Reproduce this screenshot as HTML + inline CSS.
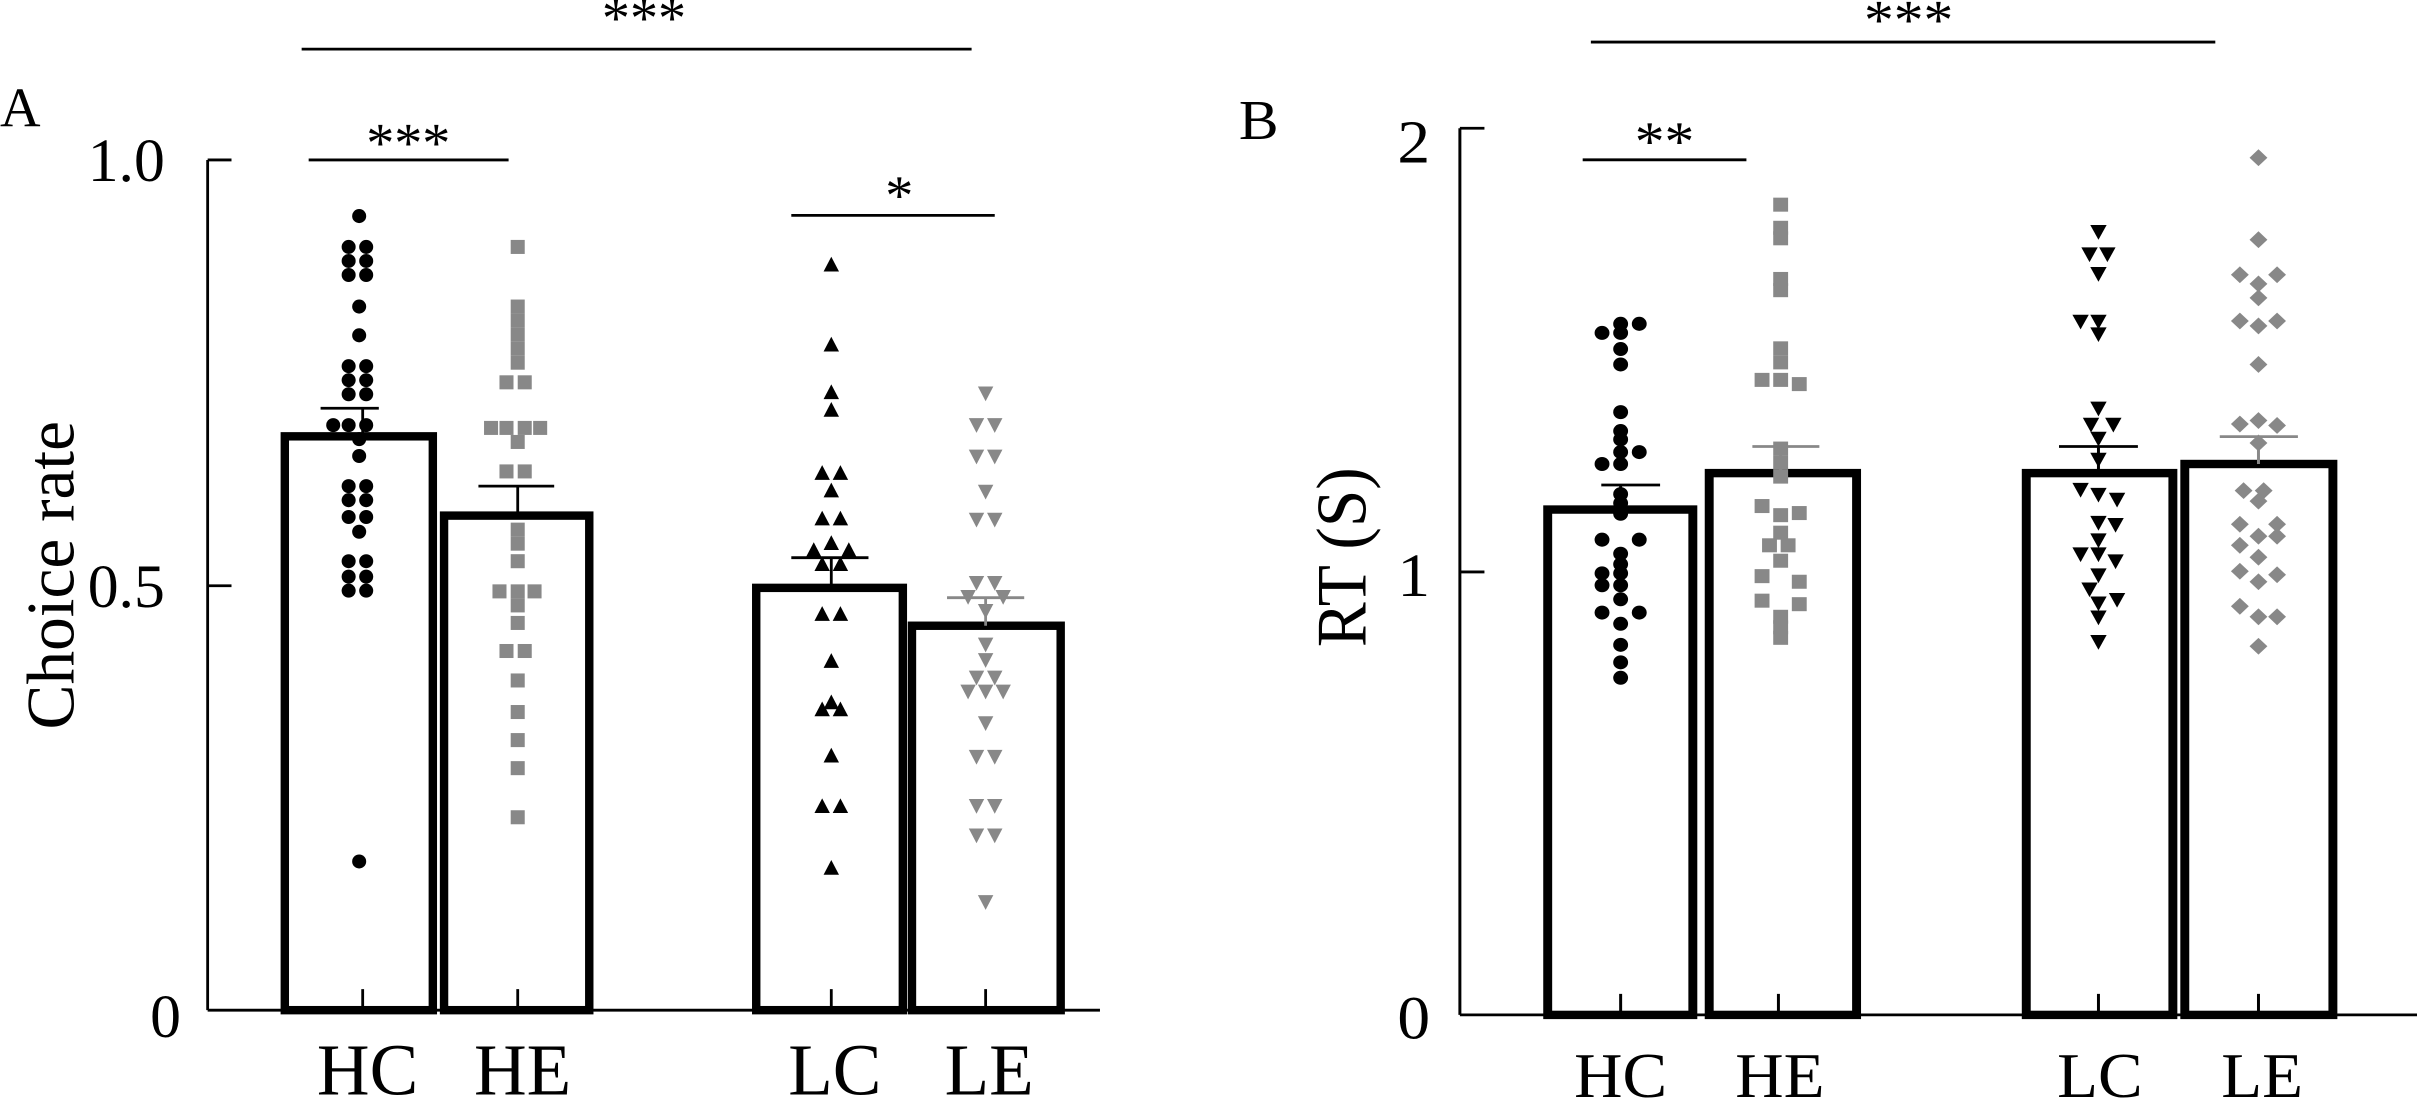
<!DOCTYPE html>
<html><head><meta charset="utf-8"><style>
html,body{margin:0;padding:0;background:#fff;}
svg{display:block;}
text{font-family:"Liberation Serif",serif;fill:#000;}
</style></head><body>
<svg width="2417" height="1099" viewBox="0 0 2417 1099" xmlns="http://www.w3.org/2000/svg">
<defs>
<circle id="c" r="10" fill="#000"/>
<rect id="s" x="-10" y="-10" width="20" height="20" fill="#888"/>
<path id="tu" d="M0,-12 L11,9 L-11,9 Z" fill="#000"/>
<path id="td" d="M0,12 L11,-9 L-11,-9 Z" fill="#888"/>
<path id="tdb" d="M0,12 L11,-9 L-11,-9 Z" fill="#000"/>
<path id="dm" d="M0,-12 L12,0 L0,12 L-12,0 Z" fill="#888"/>
</defs>
<!-- Panel A -->
<g transform="scale(0.70151)">
<text x="0" y="180" font-size="80">A</text>
<line x1="296" y1="228" x2="296" y2="1440" stroke="#000" stroke-width="4"/>
<line x1="296" y1="1440" x2="1568" y2="1440" stroke="#000" stroke-width="4"/>
<line x1="296" y1="228" x2="330" y2="228" stroke="#000" stroke-width="4"/>
<line x1="296" y1="835" x2="330" y2="835" stroke="#000" stroke-width="4"/>
<text x="235" y="258" font-size="88" text-anchor="end">1.0</text>
<text x="235" y="865" font-size="88" text-anchor="end">0.5</text>
<text x="258" y="1478" font-size="88" text-anchor="end">0</text>
<text transform="translate(105,820) rotate(-90)" font-size="96" text-anchor="middle">Choice rate</text>
<g stroke="#000" stroke-width="12" fill="#fff">
<rect x="406" y="622" width="211" height="818"/>
<rect x="633" y="735" width="207" height="705"/>
<rect x="1078" y="838" width="209" height="602"/>
<rect x="1300" y="892" width="212" height="548"/>
</g>
<g stroke="#000" stroke-width="4">
<line x1="517" y1="1410" x2="517" y2="1440"/><line x1="738" y1="1410" x2="738" y2="1440"/>
<line x1="1185" y1="1410" x2="1185" y2="1440"/><line x1="1405" y1="1410" x2="1405" y2="1440"/>
<line x1="430" y1="70" x2="1385" y2="70"/>
<line x1="440" y1="228" x2="725" y2="228"/>
<line x1="1128" y1="307" x2="1418" y2="307"/>
</g>
<text x="918" y="52" font-size="80" text-anchor="middle">***</text>
<text x="582" y="230" font-size="80" text-anchor="middle">***</text>
<text x="1282" y="305" font-size="80" text-anchor="middle">*</text>
<g font-size="104" text-anchor="middle">
<text x="524" y="1560">HC</text><text x="745" y="1560">HE</text>
<text x="1190" y="1560">LC</text><text x="1410" y="1560">LE</text>
</g>
<g>
<use href="#c" x="512" y="308"/><use href="#c" x="497" y="352"/><use href="#c" x="522" y="352"/><use href="#c" x="497" y="372"/><use href="#c" x="522" y="372"/><use href="#c" x="497" y="392"/><use href="#c" x="522" y="392"/><use href="#c" x="512" y="437"/><use href="#c" x="512" y="478"/><use href="#c" x="497" y="522"/><use href="#c" x="522" y="522"/><use href="#c" x="497" y="542"/><use href="#c" x="522" y="542"/><use href="#c" x="497" y="562"/><use href="#c" x="522" y="562"/><use href="#c" x="475" y="606"/><use href="#c" x="497" y="606"/><use href="#c" x="522" y="606"/><use href="#c" x="512" y="626"/><use href="#c" x="512" y="650"/><use href="#c" x="497" y="693"/><use href="#c" x="522" y="693"/><use href="#c" x="497" y="713"/><use href="#c" x="522" y="713"/><use href="#c" x="497" y="737"/><use href="#c" x="522" y="737"/><use href="#c" x="512" y="758"/><use href="#c" x="497" y="800"/><use href="#c" x="522" y="800"/><use href="#c" x="497" y="822"/><use href="#c" x="522" y="822"/><use href="#c" x="497" y="842"/><use href="#c" x="522" y="842"/><use href="#c" x="512" y="1228"/>
</g>
<g>
<use href="#s" x="738" y="352"/><use href="#s" x="738" y="437"/><use href="#s" x="738" y="457"/><use href="#s" x="738" y="477"/><use href="#s" x="738" y="497"/><use href="#s" x="738" y="517"/><use href="#s" x="722" y="545"/><use href="#s" x="748" y="545"/><use href="#s" x="700" y="610"/><use href="#s" x="722" y="610"/><use href="#s" x="748" y="610"/><use href="#s" x="770" y="610"/><use href="#s" x="738" y="630"/><use href="#s" x="722" y="672"/><use href="#s" x="748" y="672"/><use href="#s" x="738" y="755"/><use href="#s" x="738" y="775"/><use href="#s" x="738" y="800"/><use href="#s" x="712" y="843"/><use href="#s" x="738" y="843"/><use href="#s" x="762" y="843"/><use href="#s" x="738" y="863"/><use href="#s" x="738" y="888"/><use href="#s" x="722" y="928"/><use href="#s" x="748" y="928"/><use href="#s" x="738" y="970"/><use href="#s" x="738" y="1015"/><use href="#s" x="738" y="1055"/><use href="#s" x="738" y="1095"/><use href="#s" x="738" y="1165"/>
</g>
<g>
<use href="#tu" x="1185" y="378"/><use href="#tu" x="1185" y="492"/><use href="#tu" x="1185" y="560"/><use href="#tu" x="1185" y="585"/><use href="#tu" x="1172" y="675"/><use href="#tu" x="1198" y="675"/><use href="#tu" x="1185" y="700"/><use href="#tu" x="1172" y="740"/><use href="#tu" x="1198" y="740"/><use href="#tu" x="1160" y="785"/><use href="#tu" x="1185" y="775"/><use href="#tu" x="1210" y="785"/><use href="#tu" x="1172" y="805"/><use href="#tu" x="1198" y="805"/><use href="#tu" x="1172" y="876"/><use href="#tu" x="1198" y="876"/><use href="#tu" x="1185" y="943"/><use href="#tu" x="1185" y="1002"/><use href="#tu" x="1172" y="1012"/><use href="#tu" x="1198" y="1012"/><use href="#tu" x="1185" y="1078"/><use href="#tu" x="1172" y="1150"/><use href="#tu" x="1198" y="1150"/><use href="#tu" x="1185" y="1238"/>
</g>
<g>
<use href="#td" x="1405" y="560"/><use href="#td" x="1392" y="605"/><use href="#td" x="1418" y="605"/><use href="#td" x="1392" y="650"/><use href="#td" x="1418" y="650"/><use href="#td" x="1405" y="700"/><use href="#td" x="1392" y="740"/><use href="#td" x="1418" y="740"/><use href="#td" x="1392" y="830"/><use href="#td" x="1418" y="830"/><use href="#td" x="1405" y="870"/><use href="#td" x="1380" y="850"/><use href="#td" x="1430" y="850"/><use href="#td" x="1405" y="918"/><use href="#td" x="1405" y="940"/><use href="#td" x="1392" y="965"/><use href="#td" x="1418" y="965"/><use href="#td" x="1380" y="985"/><use href="#td" x="1405" y="985"/><use href="#td" x="1430" y="985"/><use href="#td" x="1405" y="1030"/><use href="#td" x="1392" y="1078"/><use href="#td" x="1418" y="1078"/><use href="#td" x="1392" y="1148"/><use href="#td" x="1418" y="1148"/><use href="#td" x="1392" y="1190"/><use href="#td" x="1418" y="1190"/><use href="#td" x="1405" y="1285"/>
</g>
<g stroke-width="4">
<line x1="517" y1="582" x2="517" y2="622" stroke="#000"/><line x1="457" y1="582" x2="540" y2="582" stroke="#000"/>
<line x1="738" y1="693" x2="738" y2="735" stroke="#000"/><line x1="682" y1="693" x2="790" y2="693" stroke="#000"/>
<line x1="1185" y1="795" x2="1185" y2="838" stroke="#000"/><line x1="1128" y1="795" x2="1238" y2="795" stroke="#000"/>
<line x1="1405" y1="852" x2="1405" y2="892" stroke="#888"/><line x1="1350" y1="852" x2="1460" y2="852" stroke="#888"/>
</g>
</g>
<!-- Panel B -->
<g transform="translate(1250,0) scale(0.74426,0.7009)">
<text x="-15" y="198" font-size="80">B</text>
<line x1="282" y1="183" x2="282" y2="1448" stroke="#000" stroke-width="4"/>
<line x1="282" y1="1448" x2="1568" y2="1448" stroke="#000" stroke-width="4"/>
<line x1="282" y1="183" x2="315" y2="183" stroke="#000" stroke-width="4"/>
<line x1="282" y1="816" x2="315" y2="816" stroke="#000" stroke-width="4"/>
<text x="242" y="232" font-size="88" text-anchor="end">2</text>
<text x="242" y="850" font-size="88" text-anchor="end">1</text>
<text x="242" y="1482" font-size="88" text-anchor="end">0</text>
<text transform="translate(155,795) rotate(-90)" font-size="96" text-anchor="middle">RT (S)</text>
<g stroke="#000" stroke-width="12" fill="#fff">
<rect x="400" y="727" width="195" height="721"/>
<rect x="617" y="675" width="198" height="773"/>
<rect x="1043" y="675" width="197" height="773"/>
<rect x="1256" y="662" width="199" height="786"/>
</g>
<g stroke="#000" stroke-width="4">
<line x1="498" y1="1418" x2="498" y2="1448"/><line x1="710" y1="1418" x2="710" y2="1448"/>
<line x1="1140" y1="1418" x2="1140" y2="1448"/><line x1="1355" y1="1418" x2="1355" y2="1448"/>
<line x1="458" y1="60" x2="1297" y2="60"/>
<line x1="447" y1="228" x2="667" y2="228"/>
</g>
<text x="885" y="55" font-size="80" text-anchor="middle">***</text>
<text x="557" y="228" font-size="80" text-anchor="middle">**</text>
<g font-size="90" text-anchor="middle">
<text x="498" y="1565">HC</text><text x="712" y="1565">HE</text>
<text x="1142" y="1565">LC</text><text x="1360" y="1565">LE</text>
</g>
<g>
<use href="#c" x="473" y="475"/><use href="#c" x="498" y="462"/><use href="#c" x="523" y="462"/><use href="#c" x="498" y="475"/><use href="#c" x="498" y="498"/><use href="#c" x="498" y="520"/><use href="#c" x="498" y="588"/><use href="#c" x="498" y="615"/><use href="#c" x="498" y="627"/><use href="#c" x="473" y="662"/><use href="#c" x="498" y="645"/><use href="#c" x="523" y="645"/><use href="#c" x="498" y="662"/><use href="#c" x="498" y="705"/><use href="#c" x="498" y="718"/><use href="#c" x="498" y="733"/><use href="#c" x="473" y="770"/><use href="#c" x="523" y="770"/><use href="#c" x="498" y="790"/><use href="#c" x="498" y="805"/><use href="#c" x="473" y="818"/><use href="#c" x="498" y="818"/><use href="#c" x="473" y="835"/><use href="#c" x="498" y="835"/><use href="#c" x="498" y="855"/><use href="#c" x="473" y="874"/><use href="#c" x="523" y="874"/><use href="#c" x="498" y="890"/><use href="#c" x="498" y="920"/><use href="#c" x="498" y="945"/><use href="#c" x="498" y="967"/>
</g>
<g>
<use href="#s" x="713" y="292"/><use href="#s" x="713" y="325"/><use href="#s" x="713" y="340"/><use href="#s" x="713" y="398"/><use href="#s" x="713" y="414"/><use href="#s" x="713" y="497"/><use href="#s" x="713" y="517"/><use href="#s" x="688" y="542"/><use href="#s" x="713" y="542"/><use href="#s" x="738" y="548"/><use href="#s" x="713" y="640"/><use href="#s" x="713" y="660"/><use href="#s" x="713" y="680"/><use href="#s" x="688" y="722"/><use href="#s" x="738" y="732"/><use href="#s" x="713" y="735"/><use href="#s" x="713" y="760"/><use href="#s" x="698" y="778"/><use href="#s" x="723" y="778"/><use href="#s" x="713" y="800"/><use href="#s" x="688" y="822"/><use href="#s" x="738" y="830"/><use href="#s" x="688" y="857"/><use href="#s" x="738" y="862"/><use href="#s" x="713" y="880"/><use href="#s" x="713" y="895"/><use href="#s" x="713" y="910"/>
</g>
<g>
<use href="#tdb" x="1140" y="330"/><use href="#tdb" x="1128" y="362"/><use href="#tdb" x="1152" y="362"/><use href="#tdb" x="1140" y="390"/><use href="#tdb" x="1116" y="458"/><use href="#tdb" x="1140" y="458"/><use href="#tdb" x="1140" y="476"/><use href="#tdb" x="1140" y="582"/><use href="#tdb" x="1130" y="605"/><use href="#tdb" x="1160" y="605"/><use href="#tdb" x="1140" y="625"/><use href="#tdb" x="1140" y="655"/><use href="#tdb" x="1116" y="698"/><use href="#tdb" x="1140" y="705"/><use href="#tdb" x="1165" y="712"/><use href="#tdb" x="1140" y="745"/><use href="#tdb" x="1163" y="748"/><use href="#tdb" x="1140" y="770"/><use href="#tdb" x="1116" y="790"/><use href="#tdb" x="1140" y="790"/><use href="#tdb" x="1163" y="800"/><use href="#tdb" x="1140" y="820"/><use href="#tdb" x="1128" y="840"/><use href="#tdb" x="1165" y="855"/><use href="#tdb" x="1140" y="860"/><use href="#tdb" x="1140" y="880"/><use href="#tdb" x="1140" y="915"/>
</g>
<g>
<use href="#dm" x="1355" y="225"/><use href="#dm" x="1355" y="342"/><use href="#dm" x="1330" y="392"/><use href="#dm" x="1380" y="392"/><use href="#dm" x="1355" y="405"/><use href="#dm" x="1355" y="425"/><use href="#dm" x="1330" y="458"/><use href="#dm" x="1380" y="458"/><use href="#dm" x="1355" y="465"/><use href="#dm" x="1355" y="520"/><use href="#dm" x="1330" y="605"/><use href="#dm" x="1355" y="600"/><use href="#dm" x="1380" y="607"/><use href="#dm" x="1355" y="632"/><use href="#dm" x="1335" y="700"/><use href="#dm" x="1362" y="700"/><use href="#dm" x="1355" y="715"/><use href="#dm" x="1330" y="748"/><use href="#dm" x="1380" y="748"/><use href="#dm" x="1355" y="765"/><use href="#dm" x="1380" y="765"/><use href="#dm" x="1330" y="778"/><use href="#dm" x="1355" y="795"/><use href="#dm" x="1330" y="815"/><use href="#dm" x="1380" y="820"/><use href="#dm" x="1355" y="830"/><use href="#dm" x="1330" y="865"/><use href="#dm" x="1355" y="880"/><use href="#dm" x="1380" y="880"/><use href="#dm" x="1355" y="922"/>
</g>
<g stroke-width="4">
<line x1="498" y1="692" x2="498" y2="727" stroke="#000"/><line x1="472" y1="692" x2="551" y2="692" stroke="#000"/>
<line x1="713" y1="637" x2="713" y2="675" stroke="#888"/><line x1="675" y1="637" x2="765" y2="637" stroke="#888"/>
<line x1="1140" y1="637" x2="1140" y2="675" stroke="#000"/><line x1="1087" y1="637" x2="1193" y2="637" stroke="#000"/>
<line x1="1355" y1="623" x2="1355" y2="662" stroke="#888"/><line x1="1303" y1="623" x2="1408" y2="623" stroke="#888"/>
</g>
</g>
</svg>
</body></html>
